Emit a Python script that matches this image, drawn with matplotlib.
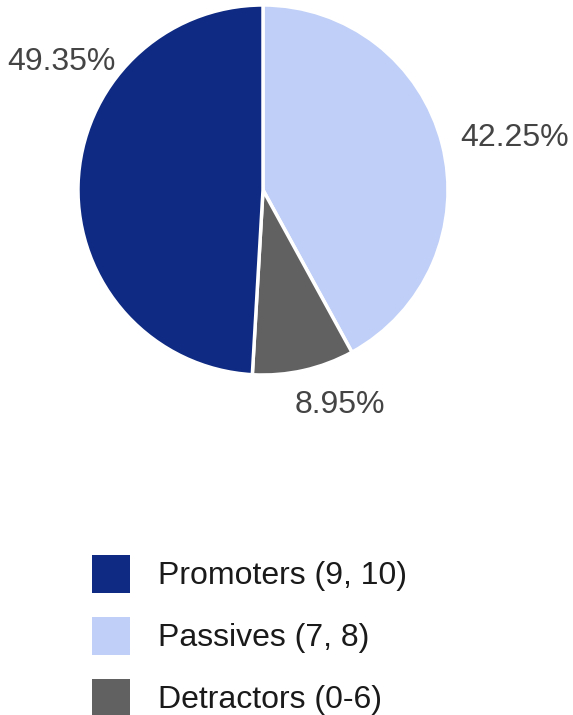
import matplotlib.pyplot as plt
from matplotlib.patches import Rectangle

plt.rcParams['font.family'] = ['Liberation Sans', 'DejaVu Sans']

# data (order as drawn clockwise from 12 o'clock)
labels = ["Passives (7, 8)", "Detractors (0-6)", "Promoters (9, 10)"]
values = [42.25, 8.95, 49.35]
colors = ["#bfcff7", "#616161", "#0e2a82"]

# legend order
legend_order = [2, 0, 1]

fig = plt.figure(figsize=(5.73, 7.15), dpi=100)
ax = fig.add_axes([0, 0, 1, 1])
ax.set_xlim(0, 573)
ax.set_ylim(0, 715)
ax.axis("off")

wedges, _ = ax.pie(values, colors=colors, startangle=90, counterclock=False,
                   center=(263, 525), radius=185, normalize=True,
                   wedgeprops=dict(edgecolor="white", linewidth=2.5))
ax.set_xlim(0, 573)
ax.set_ylim(0, 715)
ax.set_aspect("equal")

# percentage labels, placed by hand around the pie
label_pos = [(515, 577), (340, 310), (61, 653)]
for v, (x, y) in zip(values, label_pos):
    ax.text(x, y, f"{v:.2f}%", ha="center", va="center", fontsize=23, color="#444444")

# legend
for row, i in enumerate(legend_order):
    yc = 141 - row * 62
    ax.add_patch(Rectangle((92, yc - 19), 38, 38, facecolor=colors[i], edgecolor="none"))
    ax.text(158, yc - 2, labels[i], ha="left", va="center", fontsize=23, color="#1a1a1a")

fig.savefig("out.png", dpi=100)
